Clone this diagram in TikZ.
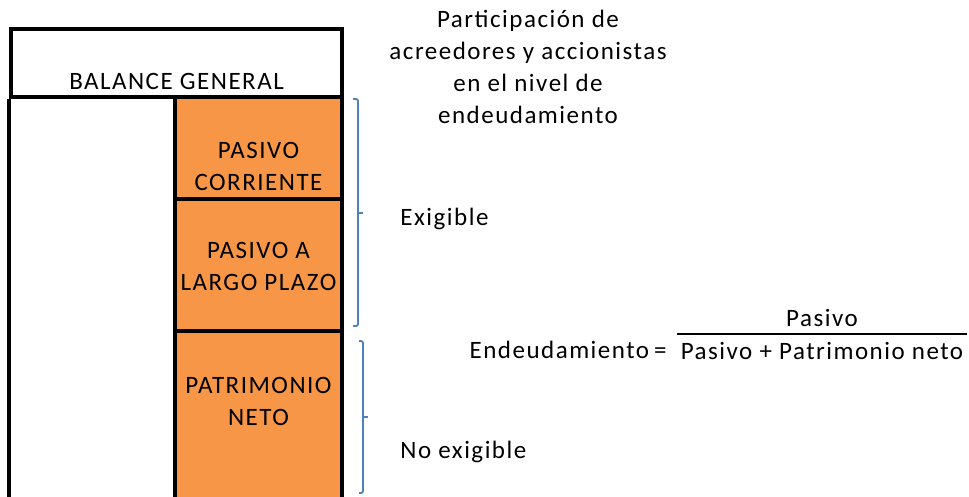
\documentclass[tikz,border=0pt]{standalone}
\usepackage{fontspec}
\setmainfont{Carlito}[LetterSpace=6]
\usepackage{xcolor}
\usetikzlibrary{positioning,calc}
\definecolor{celorange}{HTML}{F79646}
\definecolor{brblue}{HTML}{4F81BD}

\begin{document}
\begin{tikzpicture}[
  x=0.5pt, y=-0.5pt,
  every node/.style={font=\fontsize{12.5}{16}\selectfont, inner sep=0pt},
  hdr/.style={rectangle, draw=black, line width=2pt, fill=white,
              minimum width=165.5pt, minimum height=34pt},
  cell/.style={rectangle, draw=black, line width=2pt, fill=celorange,
               minimum width=83.5pt},
  txt/.style={align=center},
  brk/.style={draw=brblue, line width=0.9pt, rounded corners=1pt},
]
\useasboundingbox (0,0) rectangle (969,497);
\clip (0,0) rectangle (969,497);

% balance general
\node[hdr] (bal) at (176.5,63) {};
\node[anchor=base] (baltxt) at (176.5,90) {BALANCE GENERAL};
\draw[line width=2pt] (bal.south west) -- ++(0,440);

% columna de pasivo y patrimonio
\node[cell, minimum height=51pt] (pc) at (258.5,148) {};
\node[cell, minimum height=66pt] (lp) at (258.5,265) {};
\node[cell, minimum height=94.5pt] (pn) at (258.5,425.5) {};
\node[txt] (pctxt) at (258.5,166) {PASIVO\\CORRIENTE};
\node[txt] (lptxt) at (258.5,266) {PASIVO A\\LARGO PLAZO};
\node[txt] (pntxt) at (258.5,401) {PATRIMONIO\\NETO};

% titulo
\node[txt] (titulo) at (528,67) {Participación de\\acreedores y accionistas\\en el nivel de\\endeudamiento};

% llaves
\draw[brk] (353,99) -- (358,99) -- (358,326) -- (353,326);
\draw[brk] (358,213) -- (363,213);
\draw[brk] (359,341) -- (363,341) -- (363,493) -- (359,493);
\draw[brk] (363,417) -- (368,417);
\node[anchor=west] (exig) at (400,219) {Exigible};
\node[anchor=west] (noexig) at (400,452) {No exigible};

% formula
\node (den) at (822,351) {Pasivo + Patrimonio neto};
\node (num) at (822,318) {Pasivo};
\node[anchor=east] (endeu) at (667,350) {Endeudamiento\hspace{2.5pt}=};
\draw[line width=0.8pt] ($(den.north west)+(-3,-8)$) -- ($(den.north east)+(3,-8)$);
\end{tikzpicture}
\end{document}
